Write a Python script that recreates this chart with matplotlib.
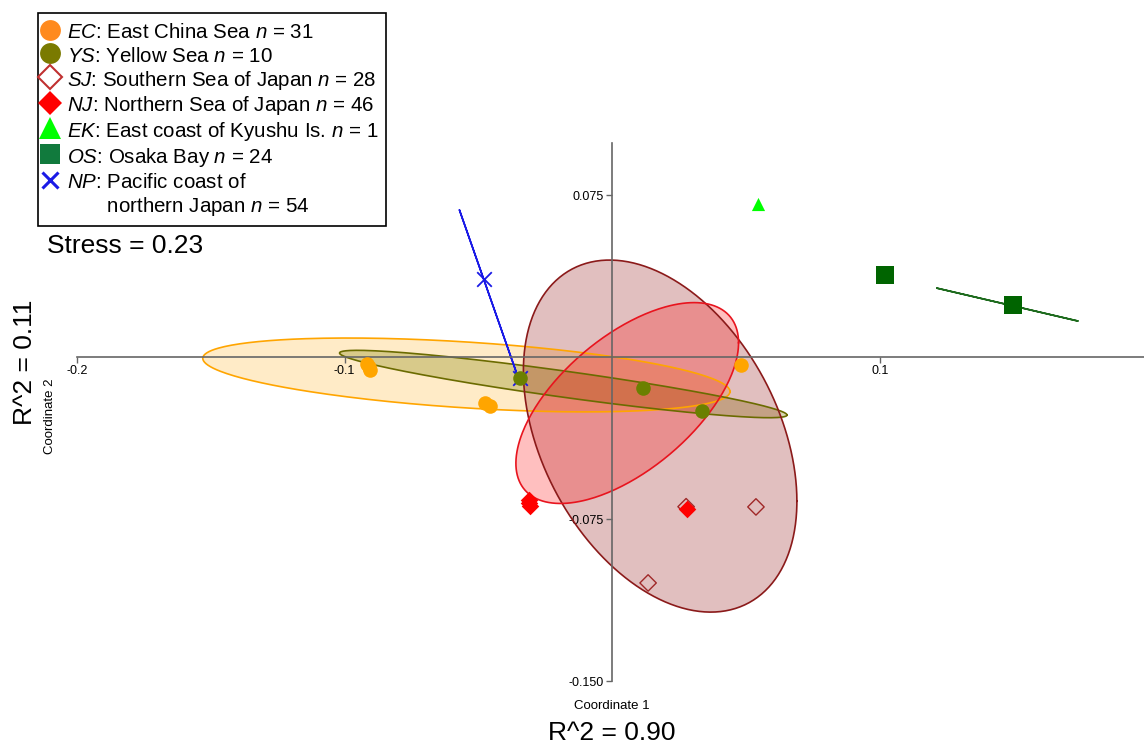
import numpy as np
import matplotlib
matplotlib.use("Agg")
import matplotlib.pyplot as plt
from matplotlib.lines import Line2D

plt.rcParams['font.family'] = ['Liberation Sans', 'DejaVu Sans']
plt.rcParams['mathtext.fontset'] = 'custom'
plt.rcParams['mathtext.rm'] = 'Liberation Sans'
plt.rcParams['mathtext.it'] = 'Liberation Sans:italic'

# --- data (Coordinate 1, Coordinate 2) ---
ec_x = [-0.0915, -0.0905, -0.0910, -0.0475, -0.0458, 0.0480]
ec_y = [-0.0030, -0.0060, -0.0046, -0.0212, -0.0225, -0.0037]
ys_x = [-0.0343, 0.0116, 0.0336]
ys_y = [-0.0097, -0.0144, -0.0250]
sj_x = [0.0276, 0.0537, 0.0134]
sj_y = [-0.0693, -0.0694, -0.1046]
nj_x = [0.0280, -0.0310, -0.0306, -0.0312]
nj_y = [-0.0704, -0.0662, -0.0690, -0.0675]
ek_x = [0.0545]
ek_y = [0.0708]
os_x = [0.1019, 0.1496]
os_y = [0.0380, 0.0240]
np_x = [-0.0478, -0.0343]
np_y = [0.0361, -0.0097]

# 95% ellipses: centre x, centre y, half extent x, half extent y, correlation
ell_ec = (-0.0545, -0.0083, 0.0985, 0.0171, -0.45)
ell_ys = (-0.0183, -0.0125, 0.0836, 0.0156, -0.92)
ell_sj = (0.0179, -0.0366, 0.0511, 0.0815, -0.37)
ell_nj = (0.0056, -0.0213, 0.0416, 0.0465, 0.60)
ell_np = (-0.0463, 0.0299, 0.0108, 0.0382, -1.0)
ell_os = (0.1476, 0.0243, 0.0263, 0.0076, -1.0)

legend_labels = [
    r"$\it{EC}$: East China Sea $\it{n}$ = 31",
    r"$\it{YS}$: Yellow Sea $\it{n}$ = 10",
    r"$\it{SJ}$: Southern Sea of Japan $\it{n}$ = 28",
    r"$\it{NJ}$: Northern Sea of Japan $\it{n}$ = 46",
    r"$\it{EK}$: East coast of Kyushu Is. $\it{n}$ = 1",
    r"$\it{OS}$: Osaka Bay $\it{n}$ = 24",
    r"$\it{NP}$: Pacific coast of",
    r"       northern Japan $\it{n}$ = 54",
]


def ellipse_xy(cx, cy, hx, hy, r, n=300):
    t = np.linspace(0, 2 * np.pi, n)
    x = cx + hx * np.cos(t)
    y = cy + hy * (r * np.cos(t) + np.sqrt(max(0.0, 1 - r * r)) * np.sin(t))
    return x, y


W, H = 1144, 745
fig = plt.figure(figsize=(W / 100, H / 100), dpi=100)
ax = fig.add_axes([77 / W, (H - 681) / H, (W - 77) / W, (681 - 143) / H])
ax.set_xlim(-0.2, 0.1987)
ax.set_ylim(-0.15, 0.0991)

# ellipse fills then outlines
fills = [(ell_ec, '#FFA500', 0.22), (ell_ys, '#808000', 0.30),
         (ell_sj, '#8B0000', 0.25), (ell_nj, '#FF0000', 0.25)]
for e, c, a in fills:
    x, y = ellipse_xy(*e)
    ax.fill(x, y, color=c, alpha=a, lw=0, zorder=1)
outlines = [(ell_ec, '#FFA500'), (ell_ys, '#6B6B00'), (ell_sj, '#8B1A1A'),
            (ell_nj, '#E8141E'), (ell_np, '#1A1AE6'), (ell_os, '#1E6B1E')]
for e, c in outlines:
    x, y = ellipse_xy(*e)
    ax.plot(x, y, color=c, lw=1.2, zorder=2)

# points
ax.scatter(np_x, np_y, marker='x', s=110, color='#1A1AE6', linewidths=1.3, zorder=3)
ax.scatter(ec_x, ec_y, marker='o', s=110, color='#FFA500', lw=0, zorder=3)
ax.scatter(ys_x, ys_y, marker='o', s=110, color='#6B8000', lw=0, zorder=4)
ax.scatter(sj_x, sj_y, marker='D', s=70, facecolor='none', edgecolor='#A02828', lw=1, zorder=3)
ax.scatter(nj_x, nj_y, marker='D', s=80, color='#FF0000', lw=0, zorder=4)
ax.scatter(ek_x, ek_y, marker='^', s=90, color='#00FF00', lw=0, zorder=4)
ax.scatter(os_x, os_y, marker='s', s=150, color='#006400', lw=0, zorder=4)

# axes through origin
for s in ['top', 'right']:
    ax.spines[s].set_visible(False)
ax.spines['left'].set_position('zero')
ax.spines['bottom'].set_position('zero')
for s in ['left', 'bottom']:
    ax.spines[s].set_color('#666666')
    ax.spines[s].set_linewidth(1.2)
ax.set_xticks([-0.2, -0.1, 0.1])
ax.set_xticklabels(['-0.2', '-0.1', '0.1'])
ax.set_yticks([0.075, -0.075, -0.150])
ax.set_yticklabels(['0.075', '-0.075', '-0.150'])
ax.tick_params(axis='both', direction='out', length=4, width=1, color='#666666',
               labelsize=9, pad=2)

fig.text(612 / W, 1 - 706 / H, 'Coordinate 1', ha='center', va='center', fontsize=9.5)
fig.text(50 / W, 1 - 416 / H, 'Coordinate 2', ha='center', va='center', fontsize=9.5,
         rotation=90)
fig.text(612 / W, 1 - 733 / H, 'R^2 = 0.90', ha='center', va='center', fontsize=19)
fig.text(25 / W, 1 - 362 / H, 'R^2 = 0.11', ha='center', va='center', fontsize=19,
         rotation=90)
fig.text(47 / W, 1 - 246 / H, 'Stress = 0.23', ha='left', va='center', fontsize=19)

handles = [
    Line2D([], [], ls='', marker='o', ms=15, color='#FF8A1E', mew=0),
    Line2D([], [], ls='', marker='o', ms=15, color='#7A7A00', mew=0),
    Line2D([], [], ls='', marker='D', ms=12, mfc='white', mec='#C03030', mew=1.5),
    Line2D([], [], ls='', marker='D', ms=12, color='#FF0000', mew=0),
    Line2D([], [], ls='', marker='^', ms=16, color='#00FF00', mew=0),
    Line2D([], [], ls='', marker='s', ms=15, color='#117A3D', mew=0),
    Line2D([], [], ls='', marker='x', ms=12, color='#1A1AE6', mew=2.2),
    Line2D([], [], ls='', marker=None),
]
leg = fig.legend(handles, legend_labels, loc='upper left',
                 bbox_to_anchor=(38 / W, 1 - 13 / H), borderaxespad=0,
                 fontsize=14.8, frameon=True, fancybox=False, framealpha=1,
                 edgecolor='black', handlelength=0.4, handleheight=1.15,
                 handletextpad=0.6, labelspacing=0.12, borderpad=0.4)
leg.get_frame().set_linewidth(1.2)

fig.savefig('out.png', dpi=100)
